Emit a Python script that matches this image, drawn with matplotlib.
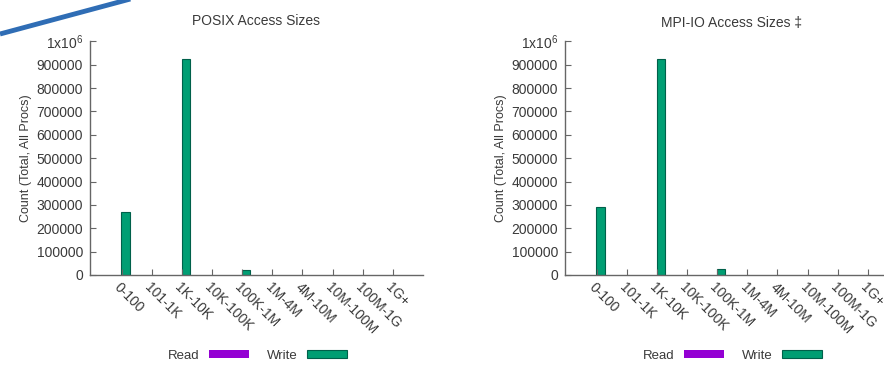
import matplotlib
matplotlib.use("Agg")
import matplotlib.pyplot as plt
import numpy as np
from matplotlib.patches import Patch
from matplotlib.lines import Line2D
from matplotlib.ticker import FuncFormatter

plt.rcParams['font.family'] = ['Liberation Sans', 'DejaVu Sans']
plt.rcParams['mathtext.default'] = 'regular'

# access size buckets and counts (total over all procs)
size_bins = ['0-100', '101-1K', '1K-10K', '10K-100K', '100K-1M',
             '1M-4M', '4M-10M', '10M-100M', '100M-1G', '1G+']
posix_read = [2000, 0, 2000, 0, 0, 0, 0, 0, 0, 0]
posix_write = [268000, 0, 925000, 0, 20000, 0, 0, 0, 0, 0]
mpiio_read = [2000, 0, 2000, 0, 0, 0, 0, 0, 0, 0]
mpiio_write = [292000, 0, 925000, 0, 24000, 0, 0, 0, 0, 0]

READ_COLOR = '#9400d3'
WRITE_COLOR = '#009e73'
TEXT_COLOR = '#3a3a3a'
AXIS_COLOR = '#666666'

W, H = 884, 365
fig = plt.figure(figsize=(W / 100, H / 100), dpi=100)


def yfmt(v, pos):
    if v >= 1e6:
        return r'1x10$^6$'
    return '%d' % v


def draw_panel(ax, read, write, title, title_pad):
    x = np.arange(len(size_bins))
    read = np.array(read)
    write = np.array(write)
    ax.bar(x - 0.13, read, width=0.27, color=READ_COLOR,
           edgecolor='#333333', linewidth=np.where(read > 0, 0.6, 0))
    ax.bar(x + 0.13, write, width=0.27, color=WRITE_COLOR,
           edgecolor='#00604a', linewidth=np.where(write > 0, 0.8, 0))

    ax.set_xlim(-1.05, 10)
    ax.set_ylim(0, 1e6)
    ax.set_yticks(np.arange(0, 1e6 + 1, 100000))
    ax.yaxis.set_major_formatter(FuncFormatter(yfmt))
    ax.set_xticks(x)
    ax.set_xticklabels(size_bins, rotation=-45, ha='left', va='top',
                       rotation_mode='anchor')

    for s in ['top', 'right']:
        ax.spines[s].set_visible(False)
    for s in ['left', 'bottom']:
        ax.spines[s].set_color(AXIS_COLOR)
        ax.spines[s].set_linewidth(1.0)
    ax.tick_params(axis='both', direction='in', length=4, width=0.8,
                   color=AXIS_COLOR, labelcolor=TEXT_COLOR, labelsize=10)
    ax.tick_params(axis='y', pad=5)
    ax.tick_params(axis='x', pad=4)

    ax.set_ylabel('Count (Total, All Procs)', fontsize=9, color=TEXT_COLOR)
    ax.yaxis.set_label_coords(-0.175, 0.5)
    ax.set_title(title, fontsize=10, color=TEXT_COLOR, pad=title_pad)

    handles = [Patch(facecolor=READ_COLOR, edgecolor='none'),
               Patch(facecolor=WRITE_COLOR, edgecolor='#00604a', linewidth=0.8)]
    leg = ax.legend(handles, ['Read', 'Write'], ncol=2, markerfirst=False,
                    loc='center', bbox_to_anchor=(0.503, -0.347),
                    frameon=False, fontsize=9.5, handlelength=3.0,
                    handleheight=0.55, handletextpad=0.7, columnspacing=1.4)
    for t in leg.get_texts():
        t.set_color(TEXT_COLOR)


ax_bottom = 90 / H
ax_height = 233.7 / H
ax1 = fig.add_axes([90 / W, ax_bottom, 333 / W, ax_height])
ax2 = fig.add_axes([565 / W, ax_bottom, 333 / W, ax_height])

draw_panel(ax1, posix_read, posix_write, 'POSIX Access Sizes', 11.5)
draw_panel(ax2, mpiio_read, mpiio_write, 'MPI-IO Access Sizes \u2021', 10.5)

# decorative slide stroke in the top-left corner
fig.add_artist(Line2D([0 / W, 134 / W], [1 - 34 / H, 1 + 2 / H],
                      transform=fig.transFigure, color='#2f6db5',
                      linewidth=3.5, solid_capstyle='butt'))

fig.savefig('out.png', dpi=100)
